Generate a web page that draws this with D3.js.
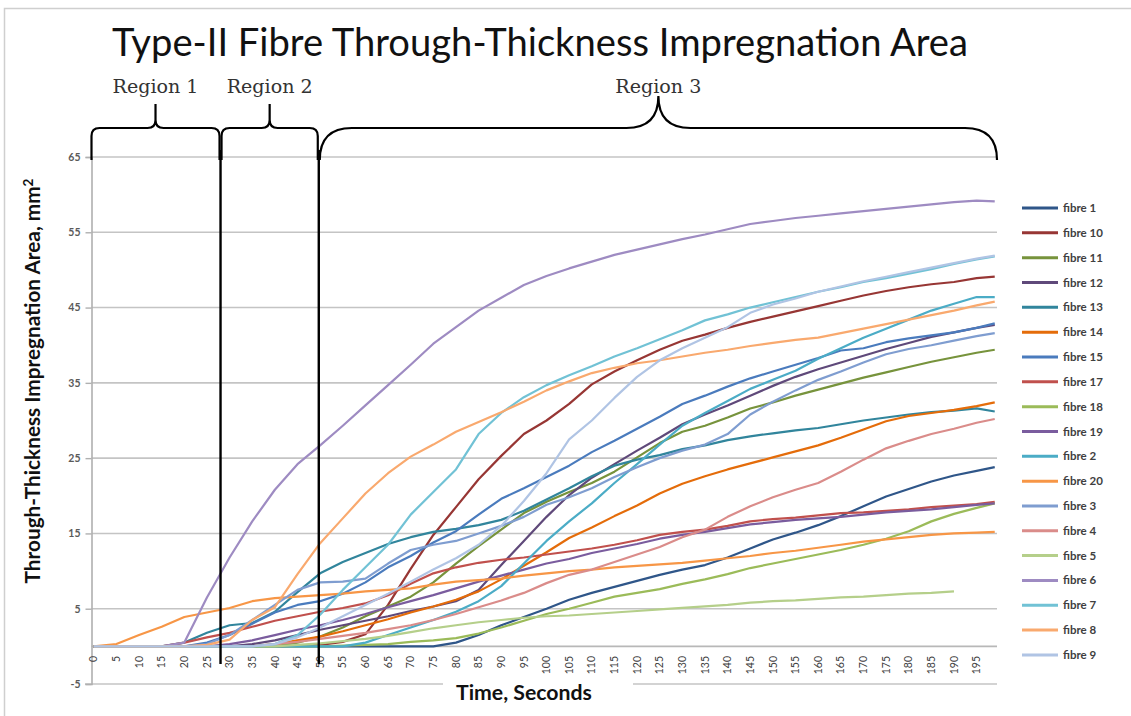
<!DOCTYPE html>
<html>
<head>
<meta charset="utf-8">
<script src="https://cdn.jsdelivr.net/npm/d3@7"></script>
<style>
  html, body { margin: 0; padding: 0; background: #ffffff; }
  svg { display: block; }
</style>
</head>
<body>
<svg id="chart" width="1131" height="716"></svg>
<script>
// Sample times (seconds)
const times = [0,5,10,15,20,25,30,35,40,45,50,55,60,65,70,75,80,85,90,95,100,105,110,115,120,125,130,135,140,145,150,155,160,165,170,175,180,185,190,195,199];

// Through-thickness impregnation area (mm²) per fibre, one value per sample time
const fibre1  = [0,0,0,0,0,0,0,0,0,0,0,0,0,0,0,0,0.5,1.5,2.8,3.9,5,6.2,7.1,7.9,8.7,9.5,10.2,10.8,11.8,13,14.2,15.1,16.1,17.3,18.6,19.9,20.9,21.9,22.7,23.3,23.8];
const fibre10 = [0,0,0,0,0,0,0,0,0,0.1,0.2,0.6,1.6,5.5,10.3,14.8,18.5,22.2,25.3,28.2,30,32.2,34.8,36.5,38,39.4,40.6,41.4,42.3,43.1,43.8,44.5,45.2,45.9,46.6,47.2,47.7,48.1,48.4,48.9,49.1];
const fibre11 = [0,0,0,0,0,0,0,0,0,0.5,1.3,2.5,4,5.3,6.6,8.5,11,13.3,15.5,17.7,19.2,20.5,21.7,23.2,25.1,27,28.5,29.3,30.4,31.6,32.4,33.3,34.1,34.9,35.7,36.4,37.1,37.8,38.4,39,39.4];
const fibre12 = [0,0,0,0,0,0,0,0.3,0.8,1.5,2.2,2.8,3.4,4,4.7,5.3,6,7.5,10.8,14,17.2,20.1,22.4,24.2,26,27.7,29.5,30.8,32,33.3,34.6,35.8,36.8,37.7,38.6,39.5,40.3,41.1,41.7,42.3,42.7];
const fibre13 = [0,0,0,0,0.5,1.8,2.8,3.1,4.6,7.2,9.7,11.2,12.4,13.6,14.5,15.2,15.6,16.1,16.8,18,19.5,21,22.6,24,24.8,25.4,26.2,26.7,27.4,27.9,28.3,28.7,29,29.5,30,30.4,30.8,31.1,31.3,31.6,31.2];
const fibre14 = [0,0,0,0,0,0,0,0,0.3,0.8,1.3,2,2.8,3.6,4.5,5.3,6.2,7.3,8.9,10.7,12.5,14.4,15.8,17.3,18.7,20.3,21.6,22.6,23.5,24.3,25.1,25.9,26.7,27.7,28.8,29.9,30.6,31,31.4,31.9,32.4];
const fibre15 = [0,0,0,0,0,0.5,1.5,3,4.5,5.5,6,7,8.5,10.5,12,13.8,15.3,17.5,19.6,21,22.5,24,25.8,27.3,28.9,30.5,32.2,33.3,34.5,35.6,36.5,37.4,38.3,39.3,39.6,40.4,40.9,41.3,41.7,42.3,42.9];
const fibre17 = [0,0,0,0,0.5,1.2,1.8,2.6,3.4,4,4.6,5.1,5.7,6.8,8.3,9.7,10.5,11.1,11.5,11.8,12.2,12.6,13,13.5,14.1,14.8,15.2,15.5,16,16.6,16.9,17.1,17.4,17.7,17.8,18,18.2,18.5,18.7,18.9,19.2];
const fibre18 = [0,0,0,0,0,0,0,0,0,0,0,0.1,0.2,0.3,0.6,0.8,1.1,1.7,2.5,3.4,4.3,5,5.8,6.6,7.1,7.6,8.3,8.9,9.6,10.4,11,11.6,12.2,12.8,13.5,14.3,15.3,16.6,17.6,18.4,19];
const fibre19 = [0,0,0,0,0,0,0.3,0.8,1.5,2.2,2.8,3.5,4.3,5.2,6,6.8,7.7,8.6,9.4,10.2,11,11.6,12.4,13,13.6,14.3,14.8,15.2,15.7,16.2,16.5,16.8,17,17.2,17.5,17.8,18,18.2,18.5,18.8,19];
const fibre2  = [0,0,0,0,0,0,0,0,0,0,0,0,0.5,1.5,2.5,3.5,4.6,6,8,11,14,16.6,19,21.7,24.2,26.8,29.3,31,32.6,34.2,35.4,36.6,38.2,39.6,41,42.2,43.4,44.6,45.5,46.4,46.4];
const fibre20 = [0,0.3,1.5,2.6,3.9,4.5,5.1,6,6.4,6.6,6.8,7,7.3,7.5,7.7,8.2,8.6,8.8,9,9.4,9.7,10,10.2,10.5,10.7,10.9,11.1,11.4,11.7,12,12.4,12.7,13.1,13.5,13.9,14.2,14.5,14.8,15,15.1,15.2];
const fibre3  = [0,0,0,0,0,0.3,1.5,3.5,5.5,7.5,8.5,8.6,9,11,12.8,13.5,14,15,16,17.2,18.8,19.8,21,22.5,23.8,25,26,26.8,28.2,30.8,32.5,34,35.4,36.5,37.7,38.8,39.5,40,40.6,41.2,41.6];
const fibre4  = [0,0,0,0,0,0,0,0,0.3,0.6,1,1.4,1.8,2.3,2.8,3.5,4.3,5.2,6.1,7.1,8.4,9.5,10.2,11.2,12.2,13.2,14.5,15.5,17.2,18.6,19.8,20.8,21.7,23.2,24.8,26.3,27.3,28.2,28.9,29.7,30.2];
const fibre5  = [0,0,0,0,0,0,0,0,0,0.2,0.4,0.7,1,1.4,1.9,2.4,2.8,3.2,3.5,3.8,4,4.1,4.3,4.5,4.7,4.9,5.1,5.3,5.5,5.8,6,6.1,6.3,6.5,6.6,6.8,7,7.1,7.3,null,null];
const fibre6  = [0,0,0,0,0.5,6.5,11.8,16.6,20.8,24.2,26.7,29.3,32,34.7,37.4,40.2,42.4,44.6,46.3,48,49.2,50.2,51.1,52,52.7,53.4,54.1,54.7,55.4,56.1,56.5,56.9,57.2,57.5,57.8,58.1,58.4,58.7,59,59.2,59.1];
const fibre7  = [0,0,0,0,0,0,0,0,0.3,1.5,4.2,7.5,10.5,13.5,17.5,20.5,23.5,28.2,31,33.1,34.7,36,37.2,38.5,39.6,40.8,42,43.3,44.1,45,45.7,46.4,47.1,47.7,48.4,48.9,49.5,50.1,50.8,51.4,51.8];
const fibre8  = [0,0,0,0,0,0.2,0.9,3.5,5.2,9.6,13.7,17,20.3,23,25.2,26.8,28.5,29.8,31.1,32.5,34,35.2,36.3,37,37.6,38,38.5,39,39.4,39.9,40.3,40.7,41,41.6,42.2,42.8,43.4,44,44.6,45.3,45.8];
const fibre9  = [0,0,0,0,0,0,0,0,0.3,1.2,2.5,4,5.5,7,8.6,10.2,11.7,13.5,16,19.3,23,27.5,30,33,35.8,38,39.6,41,42.4,44.3,45.4,46.2,47.1,47.8,48.5,49.1,49.7,50.3,50.9,51.5,51.9];

const seriesNames  = ["fibre 1","fibre 10","fibre 11","fibre 12","fibre 13","fibre 14","fibre 15","fibre 17","fibre 18","fibre 19","fibre 2","fibre 20","fibre 3","fibre 4","fibre 5","fibre 6","fibre 7","fibre 8","fibre 9"];
const seriesValues = [fibre1,fibre10,fibre11,fibre12,fibre13,fibre14,fibre15,fibre17,fibre18,fibre19,fibre2,fibre20,fibre3,fibre4,fibre5,fibre6,fibre7,fibre8,fibre9];
const seriesColors = ["#2F5689","#973634","#77933C","#5F497A","#31859C","#E46C0A","#4A7BBD","#C0504D","#9BBB59","#7A5C9E","#4BACC6","#F79646","#7F9DD0","#DA8C8A","#B5CF8A","#9E8BC2","#71C2D5","#F9A96E","#B0C4E4"];

const yTickValues = [-5,5,15,25,35,45,55,65];
const xTickValues = [0,5,10,15,20,25,30,35,40,45,50,55,60,65,70,75,80,85,90,95,100,105,110,115,120,125,130,135,140,145,150,155,160,165,170,175,180,185,190,195];

const regionLabels = ["Region 1","Region 2","Region 3"];
const regionEdges  = [-0.5, 28, 49.7, 199.5];

const chartTitle = "Type-II Fibre Through-Thickness Impregnation Area";
const yTitle = "Through-Thickness Impregnation Area, mm";
const xTitle = "Time, Seconds";

// ---- layout ----
const svg = d3.select("#chart");
const x = d3.scaleLinear().domain([-0.5, 199.5]).range([91.5, 997]);
const y = d3.scaleLinear().domain([-5, 65]).range([684, 157]);

// fit a text element to a target width by scaling its font size
function fitWidth(sel, target) {
  const node = sel.node();
  const w = node.getComputedTextLength();
  const fs = parseFloat(sel.attr("font-size"));
  sel.attr("font-size", (fs * target / w).toFixed(2));
}

// outer frame
svg.append("path")
  .attr("d", "M4.5,716 V8.5 H1131")
  .attr("fill", "none").attr("stroke", "#cfcfcf").attr("stroke-width", 1.5);

// horizontal gridlines
svg.append("g").selectAll("line").data(yTickValues).join("line")
  .attr("x1", d => d === -5 ? 85 : x.range()[0]).attr("x2", x.range()[1])
  .attr("y1", d => y(d)).attr("y2", d => y(d))
  .attr("stroke", "#c4c4c4").attr("stroke-width", 1.6);

// category axis at zero
svg.append("line")
  .attr("x1", x.range()[0]).attr("x2", x.range()[1])
  .attr("y1", y(0)).attr("y2", y(0))
  .attr("stroke", "#b8b8b8").attr("stroke-width", 1.6);

// value axis
const yAxis = d3.axisLeft(y).tickValues(yTickValues).tickSize(6).tickPadding(5).tickFormat(d => String(d));
const gy = svg.append("g").attr("transform", `translate(${x.range()[0]},0)`).call(yAxis);
gy.select(".domain").attr("stroke", "#b0b0b0").attr("stroke-width", 1.6);
gy.selectAll(".tick line").attr("stroke", "#b0b0b0").attr("stroke-width", 1.4);
gy.selectAll(".tick text")
  .attr("font-family", "Lato, 'Open Sans', sans-serif")
  .attr("font-size", 10.5).attr("font-weight", 700).attr("fill", "#5a5a5a");

// time labels, rotated
svg.append("g").selectAll("text").data(xTickValues).join("text")
  .attr("transform", d => `translate(${x(d)},656) rotate(-90)`)
  .attr("text-anchor", "end").attr("dy", "0.35em")
  .attr("font-family", "Lato, 'Open Sans', sans-serif")
  .attr("font-size", 10.5).attr("fill", "#404040")
  .text(d => d);

// series lines
const line = d3.line()
  .defined(d => d[1] !== null)
  .x(d => x(d[0]))
  .y(d => y(d[1]));

svg.append("g").selectAll("path").data(seriesValues).join("path")
  .attr("d", vals => line(times.map((t, i) => [t, vals[i]])))
  .attr("fill", "none")
  .attr("stroke", (d, i) => seriesColors[i])
  .attr("stroke-width", 2.2)
  .attr("stroke-linejoin", "round");

// region boundary lines
svg.append("g").selectAll("line").data(regionEdges.slice(1, 3)).join("line")
  .attr("x1", d => x(d)).attr("x2", d => x(d))
  .attr("y1", 150).attr("y2", 664)
  .attr("stroke", "#000").attr("stroke-width", 2.4);

// curly braces over each region
const braceTop = 128, braceEnd = 160;
function bracePath(x1, x2, r, tipY) {
  const xm = (x1 + x2) / 2;
  return `M${x1},${braceEnd} L${x1},${braceTop + r} Q${x1},${braceTop} ${x1 + r},${braceTop}` +
         ` L${xm - r},${braceTop} Q${xm},${braceTop} ${xm},${braceTop - r} L${xm},${tipY}` +
         ` L${xm},${braceTop - r} Q${xm},${braceTop} ${xm + r},${braceTop}` +
         ` L${x2 - r},${braceTop} Q${x2},${braceTop} ${x2},${braceTop + r} L${x2},${braceEnd}`;
}
const braceR = [8, 8, 32];
const braceTip = [104, 104, 98];
const braces = regionLabels.map((name, i) => ({
  name,
  x1: x(regionEdges[i]) + (i === 0 ? 0 : 1),
  x2: x(regionEdges[i + 1]) - (i === 2 ? 0 : 1),
  r: braceR[i], tip: braceTip[i]
}));
svg.append("g").selectAll("path").data(braces).join("path")
  .attr("d", b => bracePath(b.x1, b.x2, b.r, b.tip))
  .attr("fill", "none").attr("stroke", "#000").attr("stroke-width", 2.2);

svg.append("g").selectAll("text").data(braces).join("text")
  .attr("x", b => (b.x1 + b.x2) / 2).attr("y", 93)
  .attr("text-anchor", "middle")
  .attr("font-family", "'DejaVu Serif', 'Liberation Serif', serif")
  .attr("font-size", 18).attr("fill", "#333")
  .attr("textLength", 86).attr("lengthAdjust", "spacingAndGlyphs")
  .text(b => b.name);

// chart title
const title = svg.append("text")
  .attr("x", 540).attr("y", 56).attr("text-anchor", "middle")
  .attr("font-family", "Lato, 'Open Sans', sans-serif")
  .attr("font-size", 37).attr("fill", "#111")
  .text(chartTitle);
fitWidth(title, 856);

// value axis title with superscript
const yt = svg.append("text")
  .attr("transform", "translate(40,381) rotate(-90)")
  .attr("text-anchor", "middle")
  .attr("font-family", "Lato, 'Open Sans', sans-serif")
  .attr("font-size", 16.5).attr("font-weight", 700).attr("fill", "#111");
yt.append("tspan").text(yTitle);
yt.append("tspan").attr("font-size", "0.65em").attr("dy", "-0.55em").text("2");
fitWidth(yt, 405);

// time axis title on a white backing
svg.append("rect").attr("x", 443).attr("y", 674).attr("width", 190).attr("height", 42).attr("fill", "#fff");
const xt = svg.append("text")
  .attr("x", 524).attr("y", 700).attr("text-anchor", "middle")
  .attr("font-family", "Lato, 'Open Sans', sans-serif")
  .attr("font-size", 17).attr("font-weight", 700).attr("fill", "#111")
  .text(xTitle);
fitWidth(xt, 136);

// legend
const legend = svg.append("g").selectAll("g").data(seriesNames).join("g")
  .attr("transform", (d, i) => `translate(1022,${208 + i * 24.83})`);
legend.append("line")
  .attr("x1", 0).attr("x2", 36).attr("y1", 0).attr("y2", 0)
  .attr("stroke", (d, i) => seriesColors[i]).attr("stroke-width", 3);
legend.append("text")
  .attr("x", 41).attr("dy", "0.35em")
  .attr("font-family", "Lato, 'Open Sans', sans-serif")
  .attr("font-size", 11.5).attr("font-weight", 700).attr("fill", "#404040")
  .text(d => d);
</script>
</body>
</html>
